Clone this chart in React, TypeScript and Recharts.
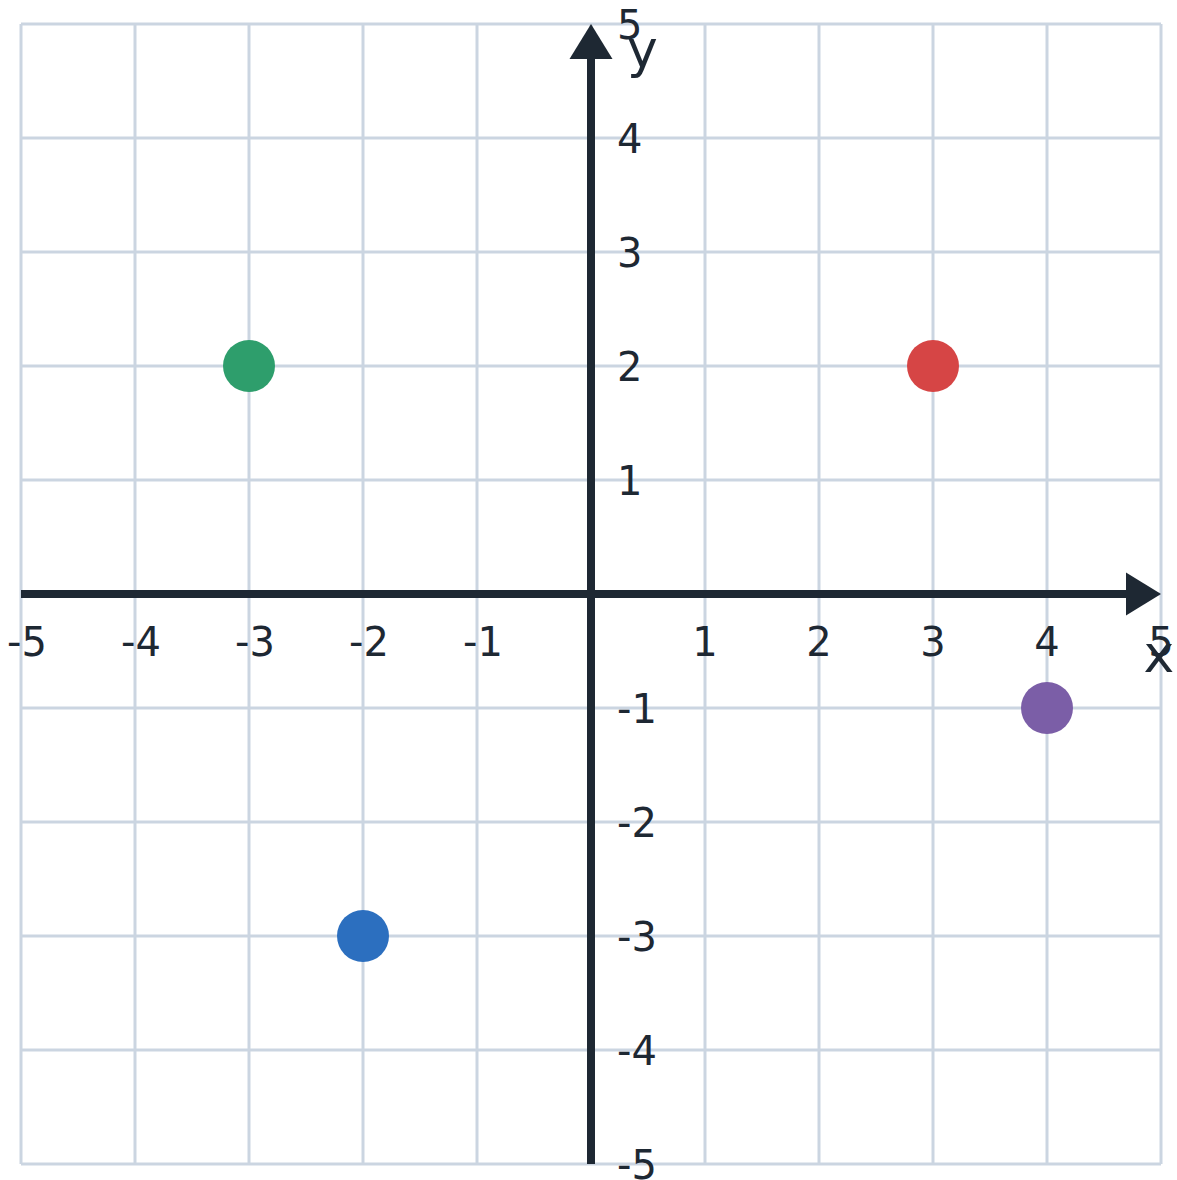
import React from "react";
import { ScatterChart, Scatter, XAxis, YAxis, ReferenceLine } from "recharts";

// coordinate plane, -5..5 on both axes
const xTicks = [-5, -4, -3, -2, -1, 0, 1, 2, 3, 4, 5];
const yTicks = [-5, -4, -3, -2, -1, 0, 1, 2, 3, 4, 5];

// plotted points
const pointXs = [-3, 3, -2, 4];
const pointYs = [2, 2, -3, -1];
const pointColors = ["#2e9e6c", "#d64545", "#2c6fbf", "#7b5ea7"];

const axisNames = ["x", "y"];

const GRID = "#cbd5e1";
const INK = "#1e2833";
const FONT = "'DejaVu Sans', sans-serif";

const points = pointXs.map((x, i) => ({ x, y: pointYs[i], color: pointColors[i] }));
const xLabelData = xTicks.filter((v) => v !== 0).map((v) => ({ x: v, y: 0, text: String(v) }));
const yLabelData = yTicks.filter((v) => v !== 0).map((v) => ({ x: 0, y: v, text: String(v) }));
const nameData = [
  { x: xTicks[xTicks.length - 1], y: 0, text: axisNames[0] },
  { x: 0, y: yTicks[yTicks.length - 1], text: axisNames[1] },
];

// axis line with arrowhead at the positive end
const arrowLine = (horizontal: boolean) => (props: any) => {
  const { x1, y1, x2, y2 } = props;
  if (horizontal) {
    const start = Math.min(x1, x2);
    const end = Math.max(x1, x2);
    return (
      <g>
        <line x1={start} y1={y1} x2={end - 10} y2={y2} stroke={INK} strokeWidth={8} />
        <polygon points={`${end},${y1} ${end - 35},${y1 - 21.5} ${end - 35},${y1 + 21.5}`} fill={INK} />
      </g>
    );
  }
  const top = Math.min(y1, y2);
  const bottom = Math.max(y1, y2);
  return (
    <g>
      <line x1={x1} y1={bottom} x2={x2} y2={top + 10} stroke={INK} strokeWidth={8} />
      <polygon points={`${x1},${top} ${x1 - 21.5},${top + 35} ${x1 + 21.5},${top + 35}`} fill={INK} />
    </g>
  );
};

const Dot = (props: any) => (
  <circle cx={props.cx} cy={props.cy} r={26} fill={props.payload.color} />
);

const XLabel = (props: any) => {
  const neg = props.payload.x < 0;
  return (
    <text x={props.cx + (neg ? 6 : 0)} y={props.cy + 62} textAnchor="middle" fontSize={40} fontFamily={FONT} fill={INK}>
      {props.payload.text}
    </text>
  );
};

const YLabel = (props: any) => (
  <text x={props.cx + 26} y={props.cy + 15} textAnchor="start" fontSize={40} fontFamily={FONT} fill={INK}>
    {props.payload.text}
  </text>
);

const NameLabel = (props: any) => {
  const isX = props.payload.text === "x";
  return (
    <text
      x={isX ? props.cx - 2 : props.cx + 36}
      y={isX ? props.cy + 78 : props.cy + 43}
      textAnchor={isX ? "middle" : "start"}
      fontSize={52}
      fontFamily={FONT}
      fill={INK}
    >
      {props.payload.text}
    </text>
  );
};

export default function App() {
  return (
    <div style={{ position: "absolute", left: 0, top: 0, background: "#fff" }}>
      <ScatterChart width={1177} height={1180} margin={{ top: 24, left: 21, right: 16, bottom: 16 }}>
        <XAxis type="number" dataKey="x" domain={[-5, 5]} ticks={xTicks} hide />
        <YAxis type="number" dataKey="y" domain={[-5, 5]} ticks={yTicks} hide />
        {xTicks.map((v) => (
          <ReferenceLine key={"gx" + v} x={v} stroke={GRID} strokeWidth={3} />
        ))}
        {yTicks.map((v) => (
          <ReferenceLine key={"gy" + v} y={v} stroke={GRID} strokeWidth={3} />
        ))}
        <ReferenceLine y={0} shape={arrowLine(true)} />
        <ReferenceLine x={0} shape={arrowLine(false)} />
        <Scatter data={points} shape={Dot} isAnimationActive={false} />
        <Scatter data={xLabelData} shape={XLabel} isAnimationActive={false} />
        <Scatter data={yLabelData} shape={YLabel} isAnimationActive={false} />
        <Scatter data={nameData} shape={NameLabel} isAnimationActive={false} />
      </ScatterChart>
    </div>
  );
}
